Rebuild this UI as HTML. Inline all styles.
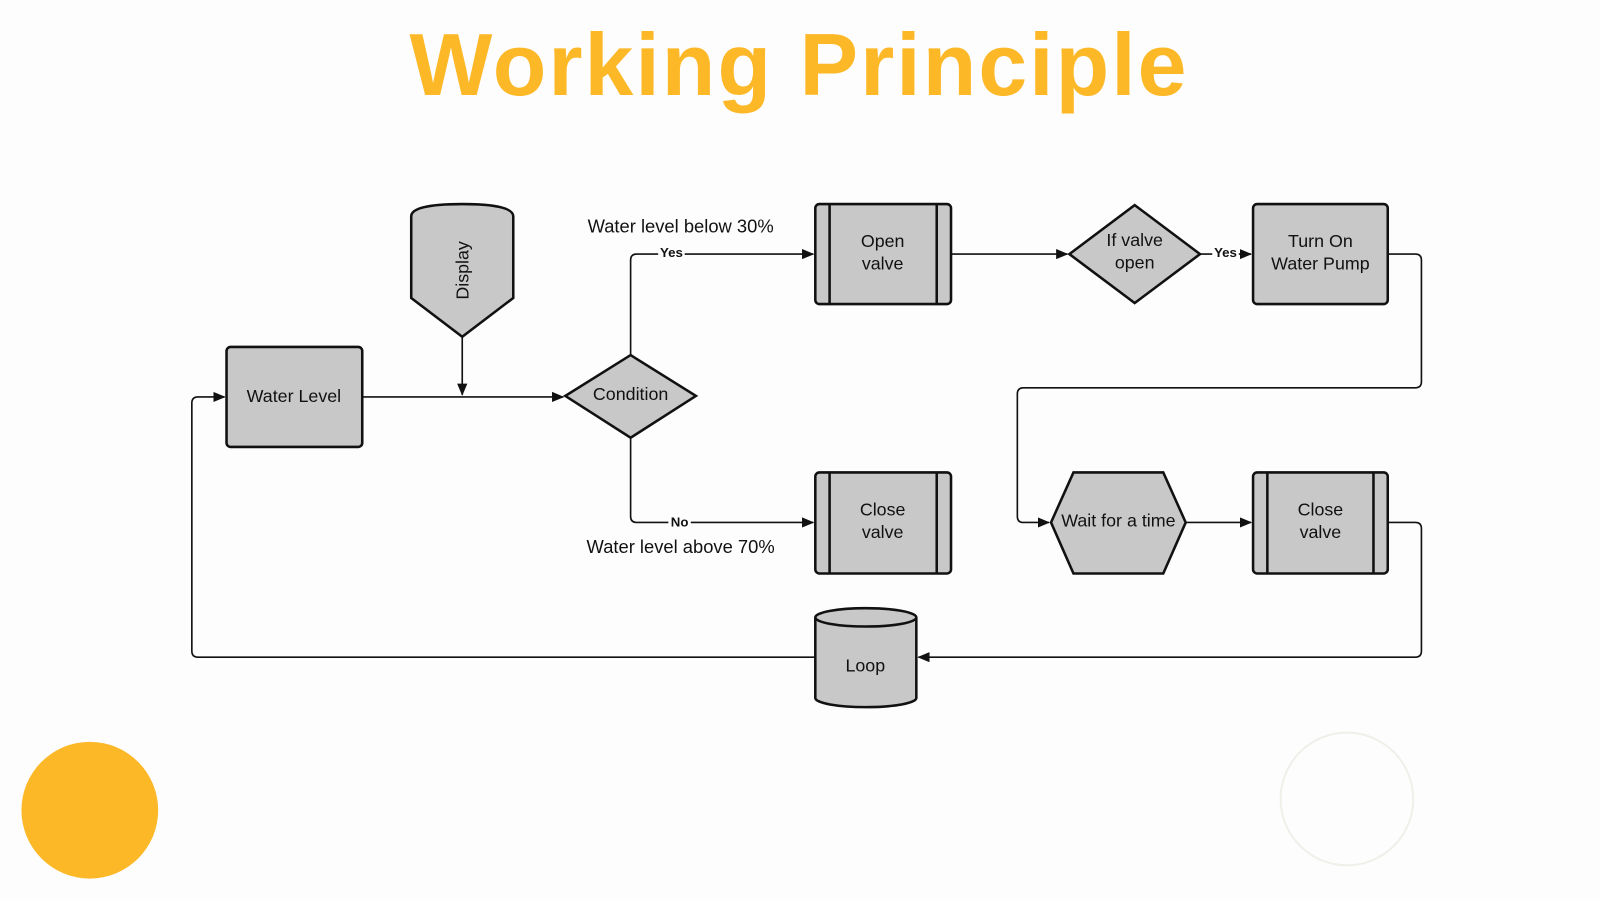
<!DOCTYPE html>
<html><head><meta charset="utf-8"><style>
html,body{margin:0;padding:0;background:#fdfdfd;}
svg{display:block}
text{font-family:"Liberation Sans",Arial,sans-serif;fill:#111;}
</style></head><body>
<svg width="1600" height="900" viewBox="0 0 1568 882" xmlns="http://www.w3.org/2000/svg">
<defs>
<marker id="a" markerWidth="12" markerHeight="10" refX="11" refY="5" orient="auto" markerUnits="userSpaceOnUse">
<path d="M0,0 L12,5 L0,10 z" fill="#111"/></marker>
</defs>
<rect width="1568" height="882" fill="#fdfdfd"/>
<text x="783" y="93" text-anchor="middle" font-size="86" font-weight="bold" letter-spacing="2" style="fill:#FDB827">Working Principle</text>
<circle cx="88" cy="794" r="67" fill="#FDB827"/>
<circle cx="1320" cy="783" r="65" fill="none" stroke="#f0efea" stroke-width="2"/>
<g fill="none" stroke="#111" stroke-width="1.6">
<path d="M355,389 H552" marker-end="url(#a)"/>
<path d="M453,330 V387" marker-end="url(#a)"/>
<path d="M618,348 V255 Q618,249 624,249 H797" marker-end="url(#a)"/>
<path d="M618,429 V506 Q618,512 624,512 H797" marker-end="url(#a)"/>
<path d="M932,249 H1046" marker-end="url(#a)"/>
<path d="M1176,249 H1226" marker-end="url(#a)"/>
<path d="M1360,249 H1387 Q1393,249 1393,255 V374 Q1393,380 1387,380 H1003 Q997,380 997,386 V506 Q997,512 1003,512 H1028" marker-end="url(#a)"/>
<path d="M1162,512 H1226" marker-end="url(#a)"/>
<path d="M1360,512 H1387 Q1393,512 1393,518 V638 Q1393,644 1387,644 H900" marker-end="url(#a)"/>
<path d="M799,644 H194 Q188,644 188,638 V395 Q188,389 194,389 H220" marker-end="url(#a)"/>
</g>
<g fill="#c8c8c8" stroke="#111" stroke-width="2.5">
<rect x="222" y="340" width="133" height="98" rx="4"/>
<path d="M403,292 V212 Q403,200 453,200 Q503,200 503,212 V292 L453,330 Z"/>
<path d="M618,348 L682,388 L618,429 L554,388 Z"/>
<rect x="799" y="200" width="133" height="98" rx="4"/>
<rect x="799" y="463" width="133" height="99" rx="4"/>
<path d="M1112,201 L1176,249 L1112,297 L1048,249 Z"/>
<rect x="1228" y="200" width="132" height="98" rx="4"/>
<path d="M1052,463 H1140 L1162,512 L1140,562 H1052 L1030,512 Z"/>
<rect x="1228" y="463" width="132" height="99" rx="4"/>
<path d="M799,605 V684 A49.5,9 0 0 0 898,684 V605 A49.5,9 0 0 0 799,605 Z"/>
<path d="M799,605 A49.5,9 0 0 0 898,605" fill="none"/>
</g>
<g stroke="#111" stroke-width="2.5">
<path d="M813,200 V298 M918,200 V298 M813,463 V562 M918,463 V562 M1242,463 V562 M1346,463 V562"/>
</g>
<g font-size="17.5" text-anchor="middle">
<text x="288" y="394">Water Level</text>
<text x="0" y="0" transform="translate(459,265) rotate(-90)">Display</text>
<text x="618" y="392">Condition</text>
<text x="865" y="242">Open</text><text x="865" y="264">valve</text>
<text x="865" y="505">Close</text><text x="865" y="527">valve</text>
<text x="1112" y="241">If valve</text><text x="1112" y="263">open</text>
<text x="1294" y="242">Turn On</text><text x="1294" y="264">Water Pump</text>
<text x="1096" y="516">Wait for a time</text>
<text x="1294" y="505">Close</text><text x="1294" y="527">valve</text>
<text x="848" y="658">Loop</text>
<text x="667" y="228" font-size="18">Water level below 30%</text>
<text x="667" y="542" font-size="18">Water level above 70%</text>
</g>
<g font-size="13" font-weight="bold" text-anchor="middle">
<rect x="645" y="240" width="26" height="14" fill="#fdfdfd"/>
<text x="658" y="252">Yes</text>
<rect x="655" y="504" width="22" height="14" fill="#fdfdfd"/>
<text x="666" y="516">No</text>
<rect x="1188" y="240" width="26" height="14" fill="#fdfdfd"/>
<text x="1201" y="252">Yes</text>
</g>
</svg>
</body></html>
